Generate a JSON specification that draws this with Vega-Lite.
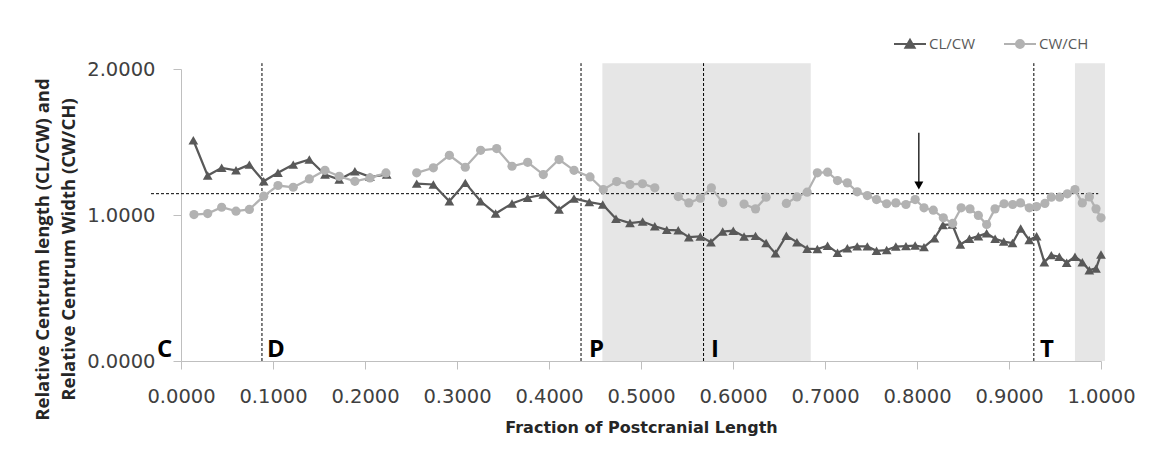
{
  "$schema": "https://vega.github.io/schema/vega-lite/v6.json",
  "width": 920,
  "height": 292,
  "autosize": {"type": "none"},
  "padding": {"left": 181, "top": 69, "right": 54, "bottom": 99},
  "background": "white",
  "config": {"view": {"stroke": null}, "font": "Open Sans"},
  "datasets": {
    "bands": [{"x1": 0.458, "x2": 0.6845}, {"x1": 0.9717, "x2": 1.0043}],
    "vlines": [{"x": 0.088}, {"x": 0.4348}, {"x": 0.568}, {"x": 0.927}],
    "hline": [{"x1": -0.0326, "x2": 0.997, "y": 1.146}],
    "arrow": [{"x": 0.802, "y1": 1.563, "y2": 1.21, "tip": 1.202}],
    "letters": [
      {"label": "C", "x": -0.026},
      {"label": "D", "x": 0.0935},
      {"label": "P", "x": 0.4435},
      {"label": "I", "x": 0.576},
      {"label": "T", "x": 0.9337}
    ],
    "series": [
      {"x": 0.0134, "series": "CL/CW", "v": 1.512},
      {"x": 0.029, "series": "CL/CW", "v": 1.27},
      {"x": 0.0442, "series": "CL/CW", "v": 1.323},
      {"x": 0.0598, "series": "CL/CW", "v": 1.306},
      {"x": 0.0743, "series": "CL/CW", "v": 1.345},
      {"x": 0.0899, "series": "CL/CW", "v": 1.231},
      {"x": 0.1054, "series": "CL/CW", "v": 1.289},
      {"x": 0.122, "series": "CL/CW", "v": 1.345},
      {"x": 0.1395, "series": "CL/CW", "v": 1.38},
      {"x": 0.1565, "series": "CL/CW", "v": 1.277},
      {"x": 0.172, "series": "CL/CW", "v": 1.243},
      {"x": 0.189, "series": "CL/CW", "v": 1.3},
      {"x": 0.2054, "series": "CL/CW", "v": 1.261},
      {"x": 0.2236, "series": "CL/CW", "v": 1.277},
      {"x": 0.24, "series": "CL/CW", "v": null},
      {"x": 0.2562, "series": "CL/CW", "v": 1.215},
      {"x": 0.2743, "series": "CL/CW", "v": 1.209},
      {"x": 0.2917, "series": "CL/CW", "v": 1.094},
      {"x": 0.309, "series": "CL/CW", "v": 1.22},
      {"x": 0.3257, "series": "CL/CW", "v": 1.094},
      {"x": 0.342, "series": "CL/CW", "v": 1.01},
      {"x": 0.3598, "series": "CL/CW", "v": 1.079},
      {"x": 0.3768, "series": "CL/CW", "v": 1.118},
      {"x": 0.3938, "series": "CL/CW", "v": 1.14},
      {"x": 0.4109, "series": "CL/CW", "v": 1.038},
      {"x": 0.4272, "series": "CL/CW", "v": 1.113},
      {"x": 0.4438, "series": "CL/CW", "v": 1.088},
      {"x": 0.4584, "series": "CL/CW", "v": 1.072},
      {"x": 0.4728, "series": "CL/CW", "v": 0.974},
      {"x": 0.488, "series": "CL/CW", "v": 0.945},
      {"x": 0.5018, "series": "CL/CW", "v": 0.955},
      {"x": 0.515, "series": "CL/CW", "v": 0.923},
      {"x": 0.528, "series": "CL/CW", "v": 0.898},
      {"x": 0.5405, "series": "CL/CW", "v": 0.895},
      {"x": 0.552, "series": "CL/CW", "v": 0.848},
      {"x": 0.5645, "series": "CL/CW", "v": 0.853},
      {"x": 0.576, "series": "CL/CW", "v": 0.814},
      {"x": 0.5888, "series": "CL/CW", "v": 0.887},
      {"x": 0.6003, "series": "CL/CW", "v": 0.892},
      {"x": 0.612, "series": "CL/CW", "v": 0.853},
      {"x": 0.6245, "series": "CL/CW", "v": 0.857},
      {"x": 0.636, "series": "CL/CW", "v": 0.808},
      {"x": 0.6462, "series": "CL/CW", "v": 0.737},
      {"x": 0.658, "series": "CL/CW", "v": 0.858},
      {"x": 0.6695, "series": "CL/CW", "v": 0.814},
      {"x": 0.6806, "series": "CL/CW", "v": 0.769},
      {"x": 0.6917, "series": "CL/CW", "v": 0.767},
      {"x": 0.7028, "series": "CL/CW", "v": 0.79},
      {"x": 0.7136, "series": "CL/CW", "v": 0.741},
      {"x": 0.7243, "series": "CL/CW", "v": 0.772},
      {"x": 0.735, "series": "CL/CW", "v": 0.785},
      {"x": 0.746, "series": "CL/CW", "v": 0.785},
      {"x": 0.756, "series": "CL/CW", "v": 0.755},
      {"x": 0.767, "series": "CL/CW", "v": 0.76},
      {"x": 0.777, "series": "CL/CW", "v": 0.784},
      {"x": 0.788, "series": "CL/CW", "v": 0.787},
      {"x": 0.798, "series": "CL/CW", "v": 0.791},
      {"x": 0.8076, "series": "CL/CW", "v": 0.78},
      {"x": 0.819, "series": "CL/CW", "v": 0.84},
      {"x": 0.8282, "series": "CL/CW", "v": 0.932},
      {"x": 0.8383, "series": "CL/CW", "v": 0.935},
      {"x": 0.8471, "series": "CL/CW", "v": 0.798},
      {"x": 0.857, "series": "CL/CW", "v": 0.837},
      {"x": 0.8667, "series": "CL/CW", "v": 0.855},
      {"x": 0.8757, "series": "CL/CW", "v": 0.875},
      {"x": 0.8849, "series": "CL/CW", "v": 0.837},
      {"x": 0.8943, "series": "CL/CW", "v": 0.818},
      {"x": 0.9038, "series": "CL/CW", "v": 0.808},
      {"x": 0.9127, "series": "CL/CW", "v": 0.908},
      {"x": 0.922, "series": "CL/CW", "v": 0.829},
      {"x": 0.93, "series": "CL/CW", "v": 0.854},
      {"x": 0.9384, "series": "CL/CW", "v": 0.677},
      {"x": 0.946, "series": "CL/CW", "v": 0.725},
      {"x": 0.9547, "series": "CL/CW", "v": 0.714},
      {"x": 0.9627, "series": "CL/CW", "v": 0.673},
      {"x": 0.9717, "series": "CL/CW", "v": 0.714},
      {"x": 0.9797, "series": "CL/CW", "v": 0.677},
      {"x": 0.9873, "series": "CL/CW", "v": 0.622},
      {"x": 0.9946, "series": "CL/CW", "v": 0.634},
      {"x": 1.0, "series": "CL/CW", "v": 0.73},
      {"x": 0.0141, "series": "CW/CH", "v": 1.003},
      {"x": 0.029, "series": "CW/CH", "v": 1.01},
      {"x": 0.0442, "series": "CW/CH", "v": 1.053},
      {"x": 0.0598, "series": "CW/CH", "v": 1.026},
      {"x": 0.0743, "series": "CW/CH", "v": 1.038},
      {"x": 0.0899, "series": "CW/CH", "v": 1.129},
      {"x": 0.1054, "series": "CW/CH", "v": 1.202},
      {"x": 0.122, "series": "CW/CH", "v": 1.19},
      {"x": 0.1395, "series": "CW/CH", "v": 1.247},
      {"x": 0.1565, "series": "CW/CH", "v": 1.306},
      {"x": 0.172, "series": "CW/CH", "v": 1.265},
      {"x": 0.189, "series": "CW/CH", "v": 1.231},
      {"x": 0.2054, "series": "CW/CH", "v": 1.254},
      {"x": 0.2228, "series": "CW/CH", "v": 1.288},
      {"x": 0.24, "series": "CW/CH", "v": null},
      {"x": 0.2562, "series": "CW/CH", "v": 1.289},
      {"x": 0.2743, "series": "CW/CH", "v": 1.323},
      {"x": 0.2917, "series": "CW/CH", "v": 1.409},
      {"x": 0.309, "series": "CW/CH", "v": 1.327},
      {"x": 0.3257, "series": "CW/CH", "v": 1.443},
      {"x": 0.3431, "series": "CW/CH", "v": 1.455},
      {"x": 0.3598, "series": "CW/CH", "v": 1.334},
      {"x": 0.3768, "series": "CW/CH", "v": 1.361},
      {"x": 0.3938, "series": "CW/CH", "v": 1.277},
      {"x": 0.4109, "series": "CW/CH", "v": 1.38},
      {"x": 0.4272, "series": "CW/CH", "v": 1.306},
      {"x": 0.4446, "series": "CW/CH", "v": 1.261},
      {"x": 0.459, "series": "CW/CH", "v": 1.174},
      {"x": 0.4736, "series": "CW/CH", "v": 1.229},
      {"x": 0.488, "series": "CW/CH", "v": 1.209},
      {"x": 0.5016, "series": "CW/CH", "v": 1.214},
      {"x": 0.515, "series": "CW/CH", "v": 1.186},
      {"x": 0.528, "series": "CW/CH", "v": null},
      {"x": 0.5405, "series": "CW/CH", "v": 1.126},
      {"x": 0.552, "series": "CW/CH", "v": 1.083},
      {"x": 0.5645, "series": "CW/CH", "v": 1.115},
      {"x": 0.5765, "series": "CW/CH", "v": 1.186},
      {"x": 0.5888, "series": "CW/CH", "v": 1.085},
      {"x": 0.6003, "series": "CW/CH", "v": null},
      {"x": 0.612, "series": "CW/CH", "v": 1.075},
      {"x": 0.6245, "series": "CW/CH", "v": 1.042},
      {"x": 0.636, "series": "CW/CH", "v": 1.122},
      {"x": 0.6462, "series": "CW/CH", "v": null},
      {"x": 0.658, "series": "CW/CH", "v": 1.079},
      {"x": 0.6695, "series": "CW/CH", "v": 1.124},
      {"x": 0.6806, "series": "CW/CH", "v": 1.156},
      {"x": 0.6917, "series": "CW/CH", "v": 1.289},
      {"x": 0.7028, "series": "CW/CH", "v": 1.293},
      {"x": 0.7136, "series": "CW/CH", "v": 1.236},
      {"x": 0.7243, "series": "CW/CH", "v": 1.22},
      {"x": 0.735, "series": "CW/CH", "v": 1.159},
      {"x": 0.746, "series": "CW/CH", "v": 1.133},
      {"x": 0.756, "series": "CW/CH", "v": 1.106},
      {"x": 0.767, "series": "CW/CH", "v": 1.077},
      {"x": 0.777, "series": "CW/CH", "v": 1.083},
      {"x": 0.788, "series": "CW/CH", "v": 1.072},
      {"x": 0.798, "series": "CW/CH", "v": 1.106},
      {"x": 0.8076, "series": "CW/CH", "v": 1.049},
      {"x": 0.8177, "series": "CW/CH", "v": 1.033},
      {"x": 0.8286, "series": "CW/CH", "v": 0.981},
      {"x": 0.8388, "series": "CW/CH", "v": 0.942},
      {"x": 0.848, "series": "CW/CH", "v": 1.049},
      {"x": 0.8576, "series": "CW/CH", "v": 1.042},
      {"x": 0.8667, "series": "CW/CH", "v": 0.997},
      {"x": 0.8757, "series": "CW/CH", "v": 0.935},
      {"x": 0.8848, "series": "CW/CH", "v": 1.042},
      {"x": 0.8946, "series": "CW/CH", "v": 1.077},
      {"x": 0.904, "series": "CW/CH", "v": 1.072},
      {"x": 0.9125, "series": "CW/CH", "v": 1.083},
      {"x": 0.922, "series": "CW/CH", "v": 1.049},
      {"x": 0.93, "series": "CW/CH", "v": 1.058},
      {"x": 0.939, "series": "CW/CH", "v": 1.079},
      {"x": 0.946, "series": "CW/CH", "v": 1.122},
      {"x": 0.955, "series": "CW/CH", "v": 1.122},
      {"x": 0.9634, "series": "CW/CH", "v": 1.145},
      {"x": 0.9717, "series": "CW/CH", "v": 1.174},
      {"x": 0.9797, "series": "CW/CH", "v": 1.083},
      {"x": 0.9873, "series": "CW/CH", "v": 1.124},
      {"x": 0.9946, "series": "CW/CH", "v": 1.042},
      {"x": 1.0, "series": "CW/CH", "v": 0.981}
    ]
  },
  "layer": [
    {
      "data": {"name": "bands"},
      "mark": {"type": "rect", "color": "#e6e6e6"},
      "encoding": {
        "x": {
          "field": "x1", "type": "quantitative",
          "scale": {"domain": [0, 1], "nice": false, "zero": false},
          "axis": {
            "values": [0, 0.1, 0.2, 0.3, 0.4, 0.5, 0.6, 0.7, 0.8, 0.9, 1],
            "format": ".4f",
            "title": "Fraction of Postcranial Length",
            "grid": false,
            "domainColor": "#bfbfbf", "tickColor": "#bfbfbf", "tickSize": 8,
            "labelPadding": 18, "labelFont": "DejaVu Sans", "labelFontSize": 19.5, "labelColor": "#404040",
            "labelFlush": false, "labelOverlap": false,
            "titleFont": "DejaVu Sans", "titleFontSize": 16, "titleFontWeight": "bold", "titleColor": "#262626",
            "titleY": 66, "titleBaseline": "middle"
          }
        },
        "x2": {"field": "x2"},
        "y": {
          "datum": 0, "type": "quantitative",
          "scale": {"domain": [0, 2], "nice": false},
          "axis": {
            "values": [0, 1, 2],
            "format": ".4f",
            "title": ["Relative Centrum length (CL/CW) and", "Relative Centrum Width (CW/CH)"],
            "grid": false,
            "domainColor": "#bfbfbf", "tickColor": "#bfbfbf", "tickSize": 8,
            "labelPadding": 18, "labelFont": "DejaVu Sans", "labelFontSize": 19.5, "labelColor": "#404040",
            "labelFlush": false,
            "titleFont": "Open Sans", "titleFontSize": 18.5, "titleFontWeight": "bold", "titleColor": "#262626",
            "titleX": -139, "titleY": 180, "titleAngle": -90, "titleAlign": "center", "titleBaseline": "middle", "titleLineHeight": 26
          }
        },
        "y2": {"datum": 2.04}
      }
    },
    {
      "data": {"name": "vlines"},
      "mark": {"type": "rule", "color": "#000000", "strokeWidth": 1, "strokeDash": [3, 2]},
      "encoding": {
        "x": {"field": "x", "type": "quantitative", "scale": {"domain": [0, 1], "nice": false, "zero": false}},
        "y": {"datum": 0, "type": "quantitative", "scale": {"domain": [0, 2], "nice": false}},
        "y2": {"datum": 2.04}
      }
    },
    {
      "data": {"name": "hline"},
      "mark": {"type": "rule", "color": "#000000", "strokeWidth": 1, "strokeDash": [3, 2]},
      "encoding": {
        "x": {"field": "x1", "type": "quantitative", "scale": {"domain": [0, 1], "nice": false, "zero": false}},
        "x2": {"field": "x2"},
        "y": {"field": "y", "type": "quantitative", "scale": {"domain": [0, 2], "nice": false}}
      }
    },
    {
      "data": {"name": "series"},
      "mark": {"type": "line", "strokeWidth": 2.25, "invalid": "break-paths-filter-domains"},
      "encoding": {
        "x": {"field": "x", "type": "quantitative", "scale": {"domain": [0, 1], "nice": false, "zero": false}},
        "y": {"field": "v", "type": "quantitative", "scale": {"domain": [0, 2], "nice": false}},
        "color": {
          "field": "series", "type": "nominal",
          "scale": {"domain": ["CL/CW", "CW/CH"], "range": ["#595959", "#b2b2b2"]},
          "legend": {
            "title": null, "orient": "none", "legendX": 712, "legendY": -42, "direction": "horizontal",
            "symbolSize": 1024, "labelFont": "Open Sans", "labelFontSize": 15, "labelColor": "#595959",
            "columnPadding": 24, "labelOffset": 2,
            "encode": {
              "symbols": {
                "update": {
                  "shape": {"signal": "datum.value === 'CL/CW' ? 'M-1,0H1M0,-0.27L-0.29,0.24L0.29,0.24Z' : 'M-1,0H1M0.25,0A0.25,0.25,0,1,1,-0.25,0A0.25,0.25,0,1,1,0.25,0Z'"},
                  "stroke": {"signal": "datum.value === 'CL/CW' ? '#595959' : '#b2b2b2'"},
                  "fill": {"signal": "datum.value === 'CL/CW' ? '#595959' : '#b2b2b2'"},
                  "strokeWidth": {"value": 2},
                  "size": {"value": 1024},
                  "opacity": {"value": 1}
                }
              }
            }
          }
        }
      }
    },
    {
      "data": {"name": "series"},
      "transform": [{"filter": "datum.series === 'CL/CW' && datum.v != null"}],
      "mark": {"type": "point", "shape": "triangle-up", "filled": true, "opacity": 1, "size": 95, "color": "#595959"},
      "encoding": {
        "x": {"field": "x", "type": "quantitative", "scale": {"domain": [0, 1], "nice": false, "zero": false}},
        "y": {"field": "v", "type": "quantitative", "scale": {"domain": [0, 2], "nice": false}}
      }
    },
    {
      "data": {"name": "series"},
      "transform": [{"filter": "datum.series === 'CW/CH' && datum.v != null"}],
      "mark": {"type": "point", "shape": "circle", "filled": true, "opacity": 1, "size": 85, "color": "#b2b2b2"},
      "encoding": {
        "x": {"field": "x", "type": "quantitative", "scale": {"domain": [0, 1], "nice": false, "zero": false}},
        "y": {"field": "v", "type": "quantitative", "scale": {"domain": [0, 2], "nice": false}}
      }
    },
    {
      "data": {"name": "arrow"},
      "mark": {"type": "rule", "color": "#000000", "strokeWidth": 1.25},
      "encoding": {
        "x": {"field": "x", "type": "quantitative", "scale": {"domain": [0, 1], "nice": false, "zero": false}},
        "y": {"field": "y1", "type": "quantitative", "scale": {"domain": [0, 2], "nice": false}},
        "y2": {"field": "y2"}
      }
    },
    {
      "data": {"name": "arrow"},
      "mark": {"type": "point", "shape": "triangle-down", "filled": true, "color": "#000000", "opacity": 1, "size": 81},
      "encoding": {
        "x": {"field": "x", "type": "quantitative", "scale": {"domain": [0, 1], "nice": false, "zero": false}},
        "y": {"field": "tip", "type": "quantitative", "scale": {"domain": [0, 2], "nice": false}}
      }
    },
    {
      "data": {"name": "letters"},
      "mark": {"type": "text", "align": "left", "baseline": "alphabetic", "font": "Open Sans", "fontSize": 24, "fontWeight": "bold", "color": "#000000", "dy": -4},
      "encoding": {
        "x": {"field": "x", "type": "quantitative", "scale": {"domain": [0, 1], "nice": false, "zero": false}},
        "y": {"datum": 0, "type": "quantitative", "scale": {"domain": [0, 2], "nice": false}},
        "text": {"field": "label"}
      }
    }
  ]
}
